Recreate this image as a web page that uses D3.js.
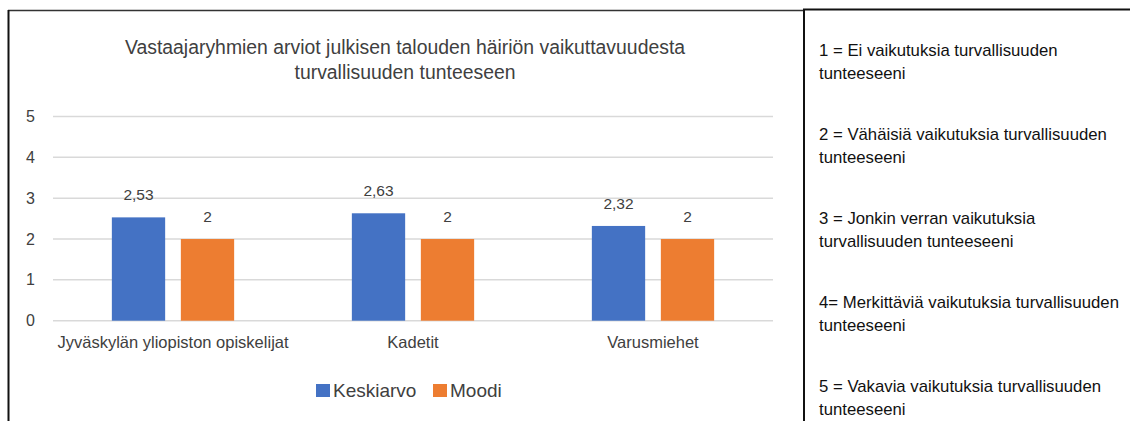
<!DOCTYPE html>
<html>
<head>
<meta charset="utf-8">
<script src="https://cdn.jsdelivr.net/npm/d3@7"></script>
<style>
  body { margin: 0; background: #fff; }
  svg { display: block; font-family: "Liberation Sans", Arial, sans-serif; }
</style>
</head>
<body>
<div id="chart-container"></div>
<script>
const categories = ["Jyväskylän yliopiston opiskelijat", "Kadetit", "Varusmiehet"];
const seriesNames = ["Keskiarvo", "Moodi"];
const keskiarvo = [2.53, 2.63, 2.32];
const moodi = [2, 2, 2];
const yTicks = [0, 1, 2, 3, 4, 5];
const titleLines = ["Vastaajaryhmien arviot julkisen talouden häiriön vaikuttavuudesta", "turvallisuuden tunteeseen"];
const scaleNotes = [
  ["1 = Ei vaikutuksia turvallisuuden", "tunteeseeni"],
  ["2 = Vähäisiä vaikutuksia turvallisuuden", "tunteeseeni"],
  ["3 = Jonkin verran vaikutuksia", "turvallisuuden tunteeseeni"],
  ["4= Merkittäviä vaikutuksia turvallisuuden", "tunteeseeni"],
  ["5 = Vakavia vaikutuksia turvallisuuden", "tunteeseeni"]
];

const W = 1130, H = 421;
const colors = ["#4472C4", "#ED7D31"];
const colorScale = d3.scaleOrdinal().domain(seriesNames).range(colors);

const data = categories.map((c, i) => ({ cat: c, values: [keskiarvo[i], moodi[i]] }));

const svg = d3.select("#chart-container")
  .append("svg")
    .attr("width", W)
    .attr("height", H);

// frames
svg.append("line").attr("x1", 8).attr("x2", 804).attr("y1", 10.5).attr("y2", 10.5)
  .attr("stroke", "#333").attr("stroke-width", 1.5);
svg.append("line").attr("x1", 8.5).attr("x2", 8.5).attr("y1", 10).attr("y2", H)
  .attr("stroke", "#111").attr("stroke-width", 2);
svg.append("line").attr("x1", 803).attr("x2", W).attr("y1", 9.5).attr("y2", 9.5)
  .attr("stroke", "#111").attr("stroke-width", 2);
svg.append("line").attr("x1", 804).attr("x2", 804).attr("y1", 9).attr("y2", H)
  .attr("stroke", "#111").attr("stroke-width", 2);

// scales
const x = d3.scaleBand().domain(categories).range([53, 773]).padding(0);
const xInner = d3.scaleBand().domain(seriesNames).range([0, x.bandwidth()])
  .paddingInner(0.2275).paddingOuter(0.853);
const y = d3.scaleLinear().domain([0, 5]).range([320.7, 116.5]);

// title
svg.append("g").selectAll("text")
  .data(titleLines)
  .join("text")
  .attr("x", 405)
  .attr("y", (d, i) => 54 + i * 25)
  .attr("text-anchor", "middle")
  .style("font-size", "19.4px")
  .style("fill", "#404040")
  .text(d => d);

// horizontal gridlines
svg.append("g").selectAll("line")
  .data(yTicks)
  .join("line")
  .attr("x1", 53)
  .attr("x2", 773)
  .attr("y1", d => y(d))
  .attr("y2", d => y(d))
  .attr("stroke", "#d9d9d9")
  .attr("stroke-width", 1.5);

// y axis
const yAxis = svg.append("g")
  .attr("transform", "translate(53,0)")
  .call(d3.axisLeft(y).tickValues(yTicks).tickFormat(d3.format("d")).tickSize(0).tickPadding(18));
yAxis.select(".domain").remove();
yAxis.selectAll(".tick text")
  .style("font-size", "16px")
  .style("font-family", "Liberation Sans, Arial, sans-serif")
  .attr("fill", "#404040");

// x axis labels
const xAxis = svg.append("g")
  .attr("transform", `translate(0,${y(0)})`)
  .call(d3.axisBottom(x).tickSize(0).tickPadding(16));
xAxis.select(".domain").remove();
xAxis.selectAll(".tick text")
  .style("font-size", "16.5px")
  .style("font-family", "Liberation Sans, Arial, sans-serif")
  .attr("fill", "#404040");

// bars
const groups = svg.append("g").selectAll("g")
  .data(data)
  .join("g")
  .attr("transform", d => `translate(${x(d.cat)},0)`);

groups.selectAll("rect")
  .data(d => d.values.map((v, i) => ({ key: seriesNames[i], value: v })))
  .join("rect")
  .attr("x", d => xInner(d.key))
  .attr("width", xInner.bandwidth())
  .attr("y", d => y(d.value))
  .attr("height", d => y(0) - y(d.value))
  .attr("fill", d => colorScale(d.key));

groups.selectAll("text")
  .data(d => d.values.map((v, i) => ({ key: seriesNames[i], value: v })))
  .join("text")
  .attr("x", d => xInner(d.key) + xInner.bandwidth() / 2)
  .attr("y", d => y(d.value) - 17)
  .attr("text-anchor", "middle")
  .style("font-size", "15.5px")
  .style("fill", "#404040")
  .text(d => String(d.value).replace(".", ","));

// legend
const legendX = [316, 433];
const legend = svg.append("g").selectAll("g")
  .data(seriesNames)
  .join("g")
  .attr("transform", (d, i) => `translate(${legendX[i]},384)`);
legend.append("rect")
  .attr("width", 14).attr("height", 13)
  .attr("fill", d => colorScale(d));
legend.append("text")
  .attr("x", 17)
  .attr("y", 13)
  .style("font-size", "19px")
  .style("fill", "#404040")
  .text(d => d);

// scale explanation notes
const notes = svg.append("g")
  .style("font-size", "15px")
  .style("fill", "#111");
const noteGroups = notes.selectAll("g")
  .data(scaleNotes)
  .join("g")
  .attr("transform", (d, i) => `translate(819,${56 + i * 84})`);
noteGroups.selectAll("text")
  .data(d => d)
  .join("text")
  .attr("y", (d, i) => i * 22.5)
  .text(d => d);

// fit note font so the longest line is about as wide as in the source
const widest = d3.max(noteGroups.selectAll("text").nodes(), n => n.getComputedTextLength());
notes.style("font-size", (15 * 300 / widest).toFixed(2) + "px");
</script>
</body>
</html>
